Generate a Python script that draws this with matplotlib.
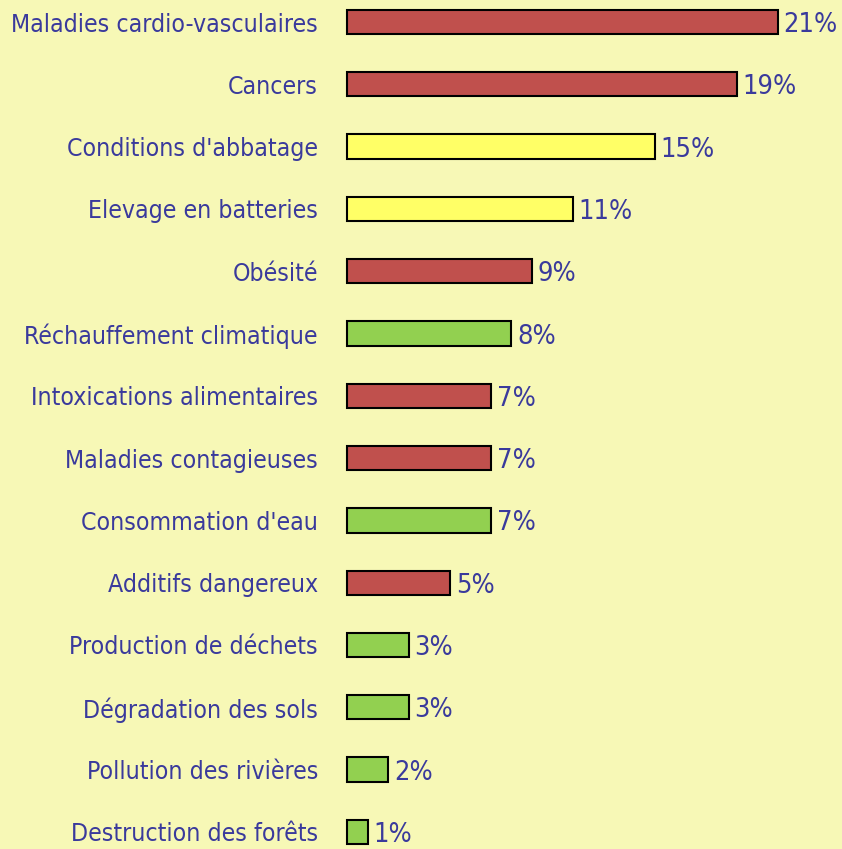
import numpy as np
import matplotlib
matplotlib.use("Agg")
from matplotlib import pyplot as plt

labels = ["Maladies cardio-vasculaires", "Cancers", "Conditions d'abbatage",
          "Elevage en batteries", "Obésité", "Réchauffement climatique",
          "Intoxications alimentaires", "Maladies contagieuses",
          "Consommation d'eau", "Additifs dangereux", "Production de déchets",
          "Dégradation des sols", "Pollution des rivières", "Destruction des forêts"]
values = [21, 19, 15, 11, 9, 8, 7, 7, 7, 5, 3, 3, 2, 1]
groups = ["sante", "sante", "animal", "animal", "sante", "env", "sante",
          "sante", "env", "sante", "env", "env", "env", "env"]

colors = {"sante": "#C0504D", "animal": "#FFFF66", "env": "#92D050"}
bg = "#F7F8B6"
txt = "#3A3A9C"
font = dict(family="DejaVu Sans", stretch="condensed")

px = 20.5  # pixels per percent
left = 345
fig = plt.figure(figsize=(8.42, 8.49), dpi=100, facecolor=bg)
ax = fig.add_axes([left / 842, 0, 1 - left / 842, 1])
ax.set_facecolor(bg)

y = np.arange(len(labels))
ax.barh(y, values, height=0.39, color=[colors[g] for g in groups],
        edgecolor="black", linewidth=1.5)
for yi, v in zip(y, values):
    ax.text(v + 0.3, yi, f"{v}%", va="center_baseline", ha="left", color=txt,
            fontsize=19.5, **font)

x0 = -(347 - left) / px
ax.set_xlim(x0, x0 + (842 - left) / px)
ax.set_ylim((849 - 22) / 62.3, -22 / 62.3)
ax.set_yticks(y)
ax.set_yticklabels(labels, color=txt, fontsize=17.8, va="center_baseline", **font)
ax.tick_params(axis="y", length=0, pad=19.5)
ax.set_xticks([])
for s in ax.spines.values():
    s.set_visible(False)

plt.savefig("out.png", dpi=100, facecolor=bg)
